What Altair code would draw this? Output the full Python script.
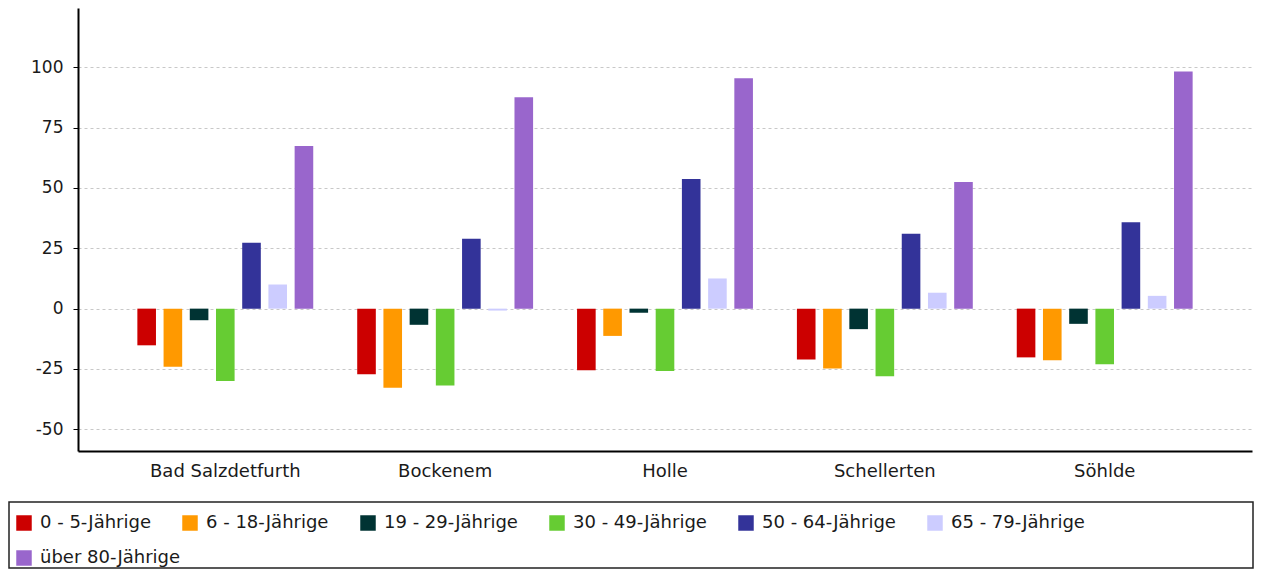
import altair as alt
import pandas as pd

gemeinden = ["Bad Salzdetfurth", "Bockenem", "Holle", "Schellerten", "Söhlde"]
gruppen = ["0 - 5-Jährige", "6 - 18-Jährige", "19 - 29-Jährige", "30 - 49-Jährige",
           "50 - 64-Jährige", "65 - 79-Jährige", "über 80-Jährige"]
farben = ["#cc0000", "#ff9900", "#003333", "#66cc33", "#333399", "#ccccff", "#9966cc"]

w_0_5 = [-15.2, -27.2, -25.5, -21.1, -20.2]
w_6_18 = [-24.1, -32.8, -11.3, -24.8, -21.4]
w_19_29 = [-4.8, -6.7, -1.7, -8.5, -6.3]
w_30_49 = [-30.0, -31.9, -25.8, -28.0, -23.0]
w_50_64 = [27.3, 29.0, 53.7, 31.0, 35.8]
w_65_79 = [10.0, -0.8, 12.5, 6.6, 5.3]
w_80 = [67.4, 87.6, 95.5, 52.5, 98.3]

y_ticks = [-50, -25, 0, 25, 50, 75, 100]

serien = [w_0_5, w_6_18, w_19_29, w_30_49, w_50_64, w_65_79, w_80]
rows = []
for g, werte in zip(gruppen, serien):
    for c, v in zip(gemeinden, werte):
        rows.append({"Gemeinde": c, "Gruppe": g, "Wert": v})
df = pd.DataFrame(rows)

FONT = "DejaVu Sans"
TXT = "#1a1a1a"

x_enc = alt.X("Gemeinde:N", sort=gemeinden,
              scale=alt.Scale(domain=gemeinden, paddingInner=0.2, paddingOuter=0.27),
              axis=alt.Axis(title=None, labelAngle=0, ticks=False, tickSize=0,
                            domainColor="black", domainWidth=2, grid=False,
                            labelFont=FONT, labelFontSize=18, labelColor=TXT,
                            labelPadding=11))
xo_enc = alt.XOffset("Gruppe:N",
                     scale=alt.Scale(domain=gruppen, paddingInner=0.29, paddingOuter=0))
y_enc = alt.Y("Wert:Q",
              scale=alt.Scale(domain=[-59, 124.6], nice=False, zero=False),
              axis=alt.Axis(title=None, values=y_ticks, grid=True, gridDash=[3, 3],
                            gridColor="#c8c8c8", gridWidth=1,
                            domainColor="black", domainWidth=2,
                            tickColor="black", tickSize=5, tickWidth=1,
                            labelExpr="'' + datum.value",
                            labelFont=FONT, labelFontSize=17, labelColor=TXT,
                            labelPadding=10))


def legend(y):
    return alt.Legend(title=None, orient="none", legendX=-63, legendY=y,
                      direction="horizontal", columns=6,
                      symbolType="square", symbolSize=240,
                      symbolStrokeWidth=0, symbolOpacity=1,
                      labelFont=FONT, labelFontSize=18,
                      labelColor=TXT, labelOffset=7,
                      columnPadding=30, padding=0, labelLimit=300)


base = alt.Chart(df).encode(x=x_enc, xOffset=xo_enc, y=y_enc)

bars_a = base.transform_filter(
    alt.FieldOneOfPredicate(field="Gruppe", oneOf=gruppen[:6])
).mark_bar().encode(
    color=alt.Color("Gruppe:N",
                    scale=alt.Scale(domain=gruppen[:6], range=farben[:6]),
                    legend=legend(506))
)

bars_b = base.transform_filter(
    alt.FieldOneOfPredicate(field="Gruppe", oneOf=gruppen[6:])
).mark_bar().encode(
    color=alt.Color("Gruppe:N",
                    scale=alt.Scale(domain=gruppen[6:], range=farben[6:]),
                    legend=legend(541))
)

frame = alt.Chart(pd.DataFrame({"f": [0]})).mark_rect(
    fill="white", fillOpacity=0, stroke="#222222", strokeWidth=1.5
).encode(
    x=alt.value(-69), x2=alt.value(1175), y=alt.value(494), y2=alt.value(560)
)

chart = alt.layer(bars_a, bars_b, frame).resolve_scale(color="independent").properties(
    width=1174, height=443,
    padding={"left": 70, "top": 0, "right": 2, "bottom": 118},
    autosize=alt.AutoSizeParams(type="none"),
    background="white",
).configure_view(strokeWidth=0)

chart.save("out.html", embed_options={"renderer": "svg", "actions": False})
